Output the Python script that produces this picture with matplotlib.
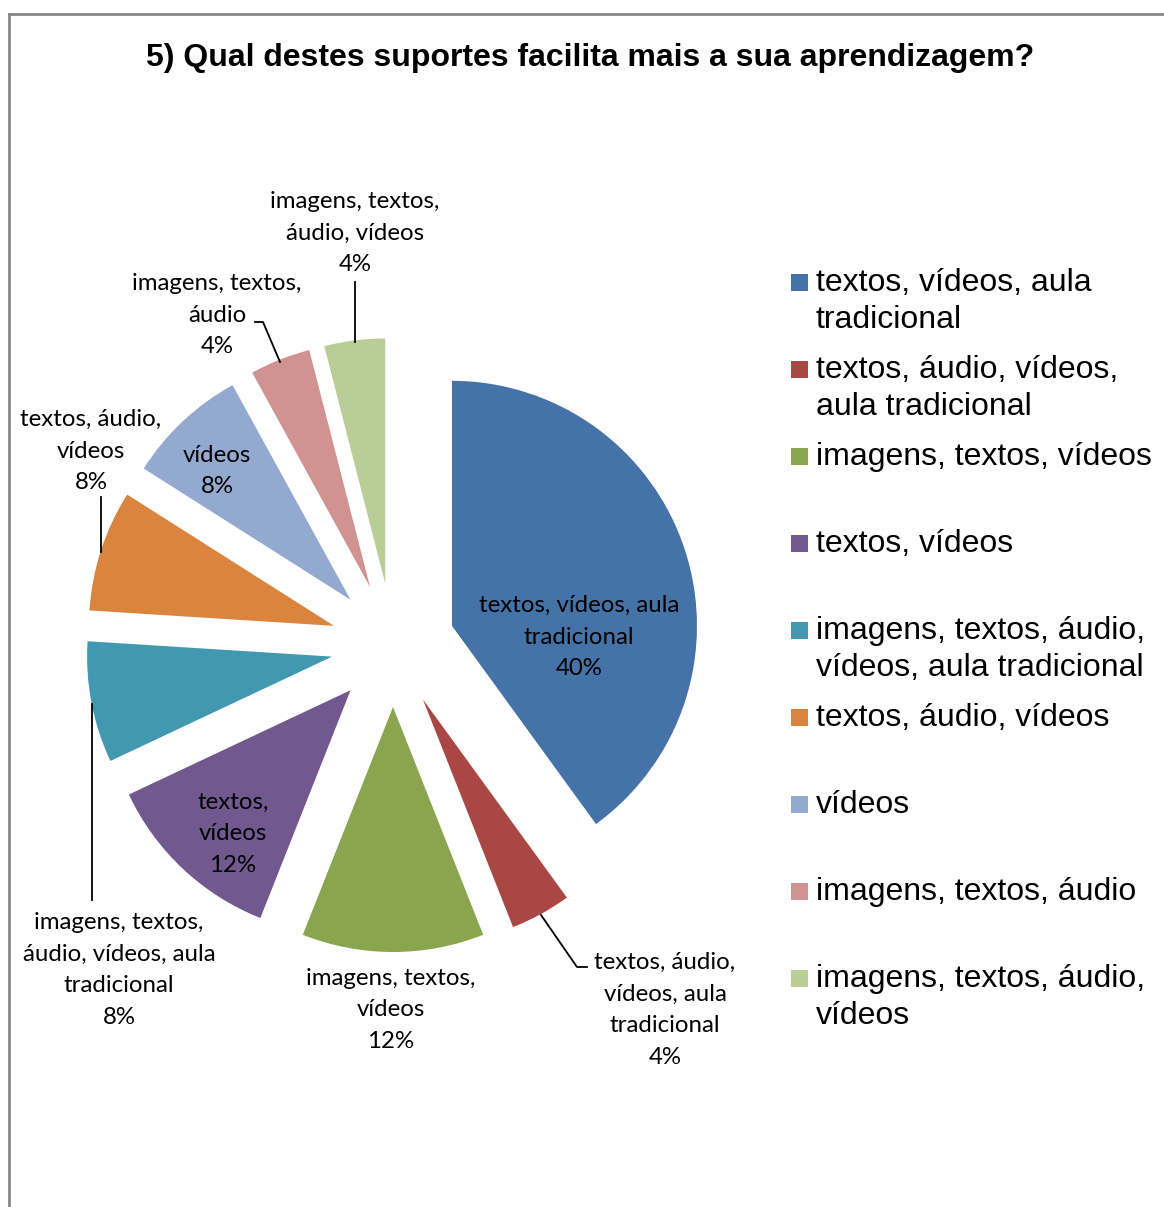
import matplotlib
matplotlib.use('Agg')
import matplotlib.pyplot as plt
from matplotlib.patches import Rectangle

# survey answers, share of respondents (%)
categories = [
    'textos, vídeos, aula tradicional',
    'textos, áudio, vídeos, aula tradicional',
    'imagens, textos, vídeos',
    'textos, vídeos',
    'imagens, textos, áudio, vídeos, aula tradicional',
    'textos, áudio, vídeos',
    'vídeos',
    'imagens, textos, áudio',
    'imagens, textos, áudio, vídeos',
]
values = [40, 4, 12, 12, 8, 8, 8, 4, 4]

# wrapped names for the slice labels and the legend
label_names = [
    'textos, vídeos, aula\ntradicional',
    'textos, áudio,\nvídeos, aula\ntradicional',
    'imagens, textos,\nvídeos',
    'textos,\nvídeos',
    'imagens, textos,\náudio, vídeos, aula\ntradicional',
    'textos, áudio,\nvídeos',
    'vídeos',
    'imagens, textos,\náudio',
    'imagens, textos,\náudio, vídeos',
]
legend_names = [
    'textos, vídeos, aula\ntradicional',
    'textos, áudio, vídeos,\naula tradicional',
    'imagens, textos, vídeos',
    'textos, vídeos',
    'imagens, textos, áudio,\nvídeos, aula tradicional',
    'textos, áudio, vídeos',
    'vídeos',
    'imagens, textos, áudio',
    'imagens, textos, áudio,\nvídeos',
]
colors = ['#4572A7', '#AA4643', '#89A54E', '#71588F', '#4198AF',
          '#DB843D', '#93A9CF', '#D19392', '#B9CD96']

W, H = 1164, 1207
fig = plt.figure(figsize=(W / 100, H / 100), dpi=100)
ax = fig.add_axes([0, 0, 1, 1])


def py(y):
    # work in pixel units measured from the top
    return H - y


ax.pie(values, colors=colors, startangle=90, counterclock=False,
       radius=245, center=(393, py(645)), explode=[62] * len(values),
       frame=True)
ax.set_xlim(0, W)
ax.set_ylim(0, H)
ax.set_aspect('auto')
ax.axis('off')

lab_font = ['Lato', 'DejaVu Sans']
# label centres (x, y) in pixels
label_pos = [(579, 637), (665, 1010), (391, 1010), (233, 834), (119, 970),
             (91, 451), (217, 471), (217, 315), (355, 233)]
for name, v, (x, y) in zip(label_names, values, label_pos):
    ax.text(x, py(y), f'{name}\n{v}%', ha='center', va='center',
            fontsize=17.3, family=lab_font, linespacing=1.63, color='black')

# leader lines
leaders = [
    [(541, 915), (577, 967), (587, 967)],
    [(92, 704), (92, 900)],
    [(101, 497), (101, 552)],
    [(255, 322), (263, 322), (280, 362)],
    [(355, 282), (355, 342)],
]
for pts in leaders:
    ax.plot([p[0] for p in pts], [py(p[1]) for p in pts], color='black', lw=1.3)

# legend
leg_font = ['Liberation Sans', 'DejaVu Sans']
for i, (name, c) in enumerate(zip(legend_names, colors)):
    yc = 282 + 87 * i
    ax.add_patch(Rectangle((791, py(yc + 8.5)), 17, 17, facecolor=c,
                           edgecolor='none'))
    ax.text(816, py(yc - 14), name, ha='left', va='top', fontsize=23,
            family=leg_font, linespacing=1.3, color='black')

ax.text(590, py(58), '5) Qual destes suportes facilita mais a sua aprendizagem?',
        ha='center', va='center', fontsize=23, fontweight='bold',
        family=leg_font)

# chart area border
ax.plot([9, W], [py(14), py(14)], color='#868686', lw=2, clip_on=False)
ax.plot([9, 9], [py(14), 0], color='#868686', lw=2, clip_on=False)

fig.savefig('out.png', dpi=100)
